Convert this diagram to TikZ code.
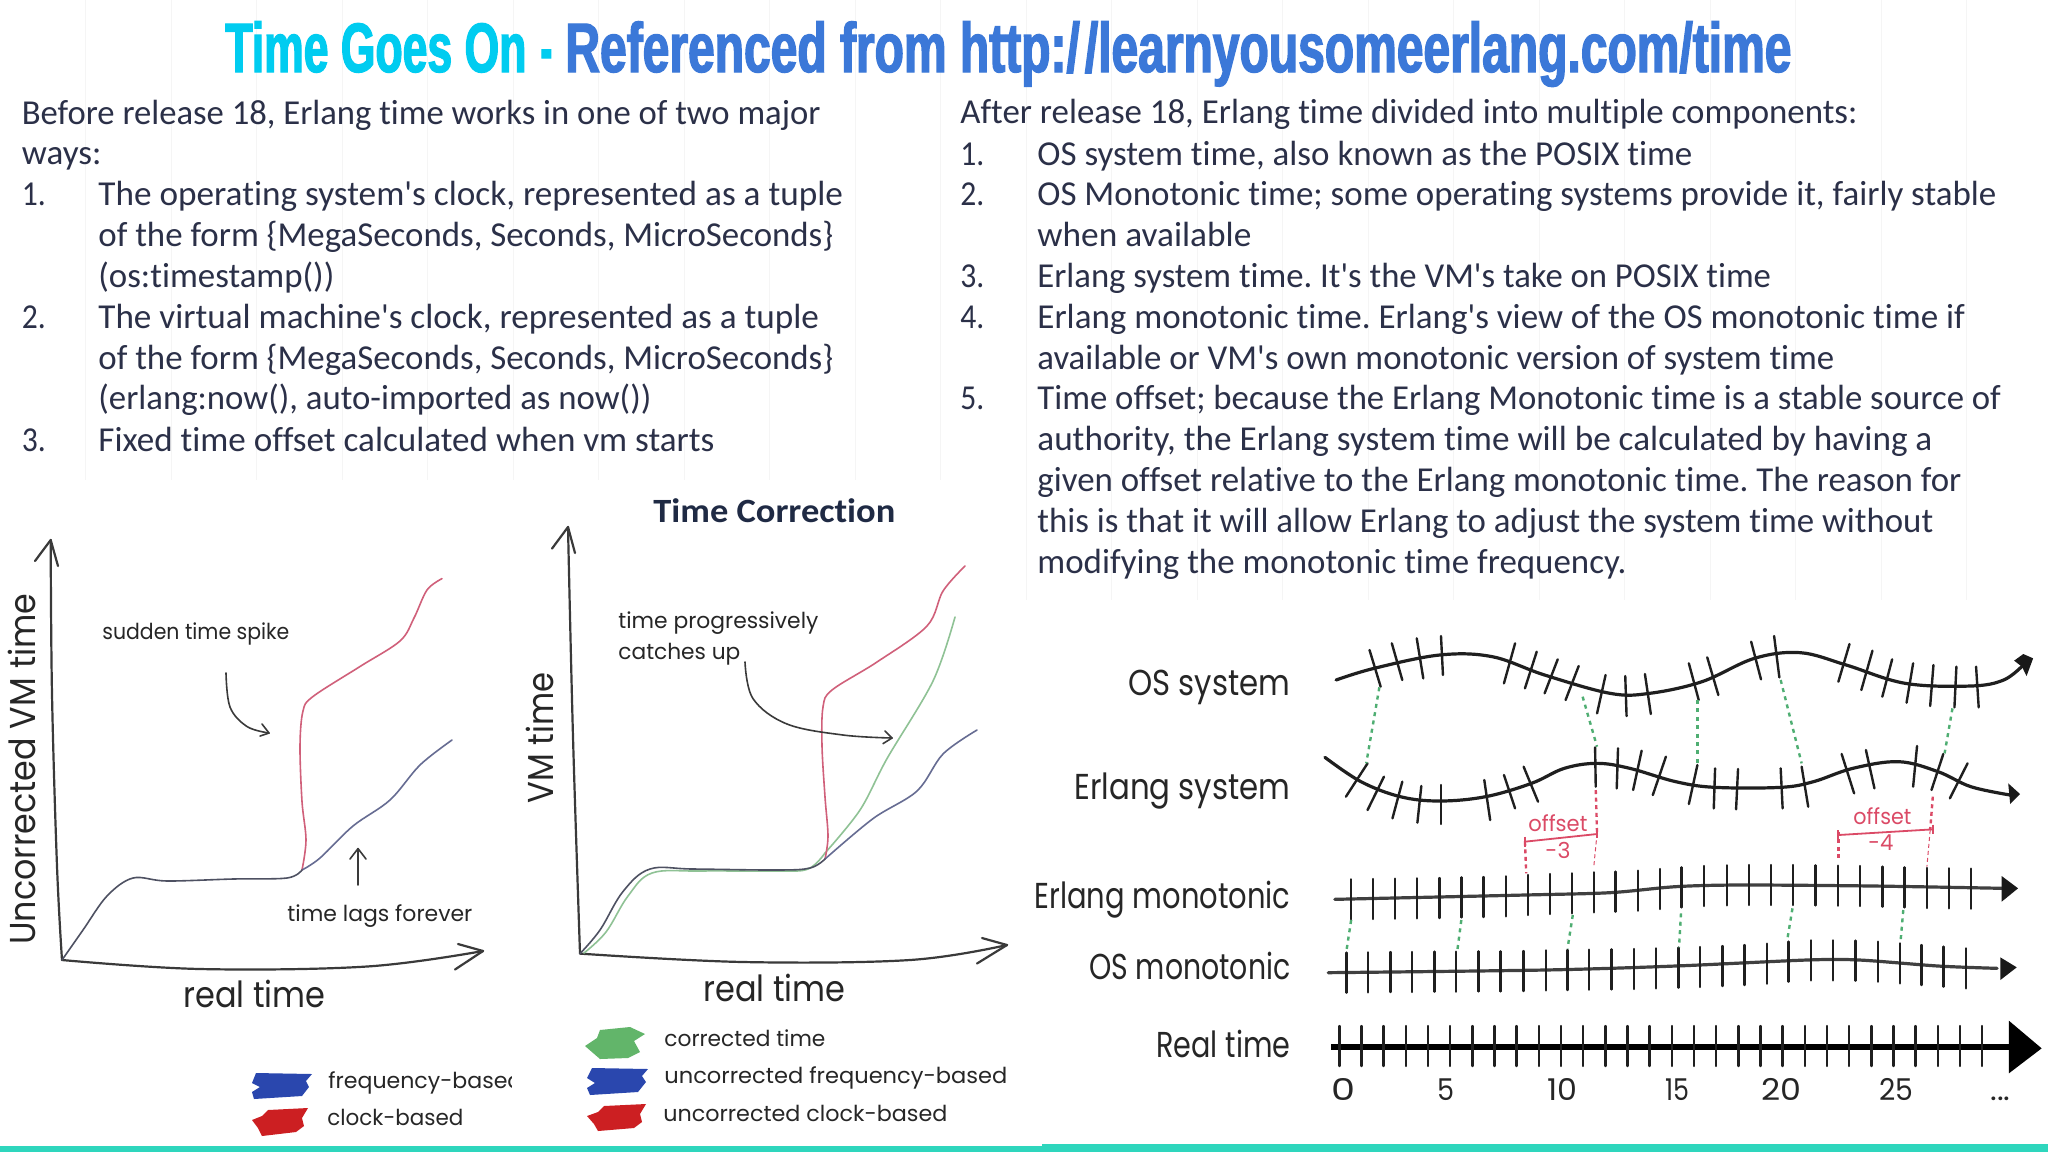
\documentclass[tikz,border=0pt]{standalone}
\usepackage{fontspec}
\setmainfont[Ligatures=NoCommon]{Carlito}
\newfontfamily\titlef[FakeStretch=0.55,BoldFeatures={FakeBold=1.6}]{Liberation Sans}
\newfontfamily\handf[Ligatures=NoCommon]{Poppins}
\definecolor{bodyc}{HTML}{2B3048}
\definecolor{headc}{HTML}{1F2A44}
\definecolor{cyanT}{HTML}{00CCF0}
\definecolor{blueT}{HTML}{3B78D8}
\definecolor{tealB}{HTML}{2ED6BD}
\definecolor{hand}{HTML}{262626}
\definecolor{axisc}{HTML}{3A3A3A}
\definecolor{redl}{HTML}{D0607A}
\definecolor{bluel}{HTML}{666C92}
\definecolor{greenl}{HTML}{8FC295}
\definecolor{swb}{HTML}{2A47AE}
\definecolor{swr}{HTML}{CC1F22}
\definecolor{swg}{HTML}{62B56A}
\definecolor{dotg}{HTML}{4FAE72}
\definecolor{offr}{HTML}{DB4A66}
\newcommand{\fitw}[2]{\resizebox{\dimexpr #1pt/2\relax}{\height}{\frenchspacing #2}}
\newcommand{\tl}[5]{\node[bodytxt] (#1) at (#2,#3+1.2) {\fitw{#4}{#5}};}
\newcommand{\hl}[6]{\node[handtxt,font=\handf\fontsize{#6}{#6}\selectfont] (#1) at (#2,#3) {\fitw{#4}{#5}};}
\newcommand{\ap}{\textquotesingle}
\tikzset{
  bodytxt/.style={anchor=base west,inner sep=0pt,text=bodyc,font=\fontsize{17.5}{20}\selectfont},
  handtxt/.style={anchor=base west,inner sep=0pt,text=hand},
  titletxt/.style={anchor=base west,inner sep=0pt,font=\titlef\bfseries\fontsize{35}{40}\selectfont},
  axis/.style={draw=axisc,line width=1.1pt,line cap=round,line join=round},
  curvek/.style={draw=#1,line width=0.8pt,line cap=round,line join=round},
  tick/.style={draw=black!88,line width=1.2pt,line cap=round},
  wave/.style={draw=black!88,line width=1.6pt,line cap=round},
  gdash/.style={draw=dotg,line width=1.2pt,dash pattern=on 2pt off 2.2pt},
  rdash/.style={draw=offr,line width=1.2pt,dash pattern=on 2pt off 1.8pt},
  rline/.style={draw=offr,line width=0.9pt},
}
\begin{document}
\begin{tikzpicture}[x=0.5pt,y=-0.5pt]
\useasboundingbox (0,0) rectangle (2048,1152);
\fill[white] (0,0) rectangle (2048,1152);
% faint background stripes
\foreach \k in {1,...,11} \draw[black!4,line width=0.5pt] (85.5*\k,0) -- (85.5*\k,480);
\foreach \k in {12,...,23} \draw[black!4,line width=0.5pt] (85.5*\k,0) -- (85.5*\k,600);
% bottom band
\fill[tealB] (0,1146) rectangle (1042,1152);
\fill[tealB] (1042,1144) rectangle (2048,1152);
% title
\node[titletxt,text=cyanT] (t1) at (225,72) {\fitw{301}{Time Goes On}};
\node[titletxt,text=cyanT] (t2) at (540,72) {\fitw{12}{-}};
\node[titletxt,text=blueT] (t3) at (565,72) {\fitw{1226}{Referenced from http:/\kern2pt/learnyousomeerlang.com/time}};
% left column
\tl{a1}{21.5}{123}{798.5}{Before release 18, Erlang time works in one of two major}
\tl{a2}{21.5}{163.5}{79.5}{ways:}
\tl{an1}{21.5}{204}{24}{1.}
\tl{a3}{98}{204}{744.5}{The operating system\ap s clock, represented as a tuple}
\tl{a4}{98}{245}{735}{of the form \{MegaSeconds, Seconds, MicroSeconds\}}
\tl{a5}{98}{286}{236}{(os:timestamp())}
\tl{an2}{21.5}{327}{24}{2.}
\tl{a6}{98}{327}{720.5}{The virtual machine\ap s clock, represented as a tuple}
\tl{a7}{98}{368}{735}{of the form \{MegaSeconds, Seconds, MicroSeconds\}}
\tl{a8}{98}{408.5}{553}{(erlang:now(), auto-imported as now())}
\tl{an3}{21.5}{450}{24}{3.}
\tl{a9}{98}{450}{616}{Fixed time offset calculated when vm starts}
% right column
\tl{b1}{960}{122.5}{897}{After release 18, Erlang time divided into multiple components:}
\tl{bn1}{960}{163.8}{24}{1.}
\tl{b2}{1037}{163.8}{655}{OS system time, also known as the POSIX time}
\tl{bn2}{960}{204.7}{24}{2.}
\tl{b3}{1037}{204.7}{959}{OS Monotonic time; some operating systems provide it, fairly stable}
\tl{b4}{1037}{245.7}{214}{when available}
\tl{bn3}{960}{286.3}{24}{3.}
\tl{b5}{1037}{286.3}{733.6}{Erlang system time. It\ap s the VM\ap s take on POSIX time}
\tl{bn4}{960}{327.2}{24}{4.}
\tl{b6}{1037}{327.2}{927.6}{Erlang monotonic time. Erlang\ap s view of the OS monotonic time if}
\tl{b7}{1037}{368}{797}{available or VM\ap s own monotonic version of system time}
\tl{bn5}{960}{408.7}{24}{5.}
\tl{b8}{1037}{408.7}{963.5}{Time offset; because the Erlang Monotonic time is a stable source of}
\tl{b9}{1037}{449.7}{895}{authority, the Erlang system time will be calculated by having a}
\tl{b10}{1037}{490.6}{924}{given offset relative to the Erlang monotonic time. The reason for}
\tl{b11}{1037}{531.6}{896}{this is that it will allow Erlang to adjust the system time without}
\tl{b12}{1037}{572}{589}{modifying the monotonic time frequency.}
\node[anchor=base west,inner sep=0pt,text=headc,font=\bfseries\fontsize{17}{20}\selectfont] (tc) at (653,522) {\fitw{242}{Time Correction}};

% ===== left chart =====
\draw[axis] plot[smooth,tension=0.6] coordinates {(62,960) (57,866) (52,694) (50.7,540)};
\draw[axis] (35,561) -- (50.7,540) -- (58,566);
\draw[axis] plot[smooth,tension=0.6] coordinates {(62,960) (200,969) (367,966.5) (483,951)};
\draw[axis] (458,944) -- (483,951) -- (455,969.5);
\draw[curvek=redl] plot[smooth,tension=0.55] coordinates {(302,870) (306,840) (302,801.5) (300,746) (303,711) (313,696.5) (360,666.5) (400,641) (414,618) (427,590) (442,578.6)};
\draw[curvek=bluel] plot[smooth,tension=0.55] coordinates {(302,870) (320,858) (353,826) (390,800) (420,765) (452,740)};
\draw[curvek=bluel!45!axisc] plot[smooth,tension=0.55] coordinates {(62,960) (83,930) (107,896) (133,878) (167,881) (233,879) (287,878) (302,870)};
\draw[curvek=axisc] plot[smooth,tension=0.6] coordinates {(226,673) (230,707) (247,726.5) (269,733)};
\draw[curvek=axisc] (262,724) -- (269,733) -- (260,736);
\draw[curvek=axisc] (358,885) -- (358,848.6);
\draw[curvek=axisc] (350,859) -- (358,848.6) -- (366,859);
\hl{c1}{102}{639}{187}{sudden time spike}{11}
\hl{c2}{287}{921}{185}{time lags forever}{11}
\hl{c3}{183}{1007}{142}{real time}{18}
\node[handtxt,rotate=90,font=\handf\fontsize{18}{18}\selectfont] (c4) at (35,945) {\fitw{351}{Uncorrected VM time}};
% legend left
\fill[swb] (256,1073) -- (312,1074) -- (306,1081) -- (309,1087) -- (302,1096) -- (254,1099) -- (252,1092) -- (260,1087) -- (252,1083) -- cycle;
\fill[swr] (268,1110) -- (308,1108) -- (302,1118) -- (304,1126) -- (296,1132) -- (262,1136) -- (258,1128) -- (252,1120) -- (262,1116) -- cycle;
\begin{scope}
\clip (320,1060) rectangle (511,1104);
\node[handtxt,font=\handf\fontsize{11}{11}\selectfont] (c5) at (328,1088) {\fitw{194}{frequency-based}};
\end{scope}
\hl{c6}{327}{1125}{136}{clock-based}{11}

% ===== right chart =====
\draw[axis] plot[smooth,tension=0.6] coordinates {(580,953.6) (573,737) (568,527)};
\draw[axis] (552,548.6) -- (568,527) -- (575,553);
\draw[axis] plot[smooth,tension=0.6] coordinates {(580,953.6) (743,962) (910,960) (1007,945)};
\draw[axis] (982,938) -- (1007,945) -- (977,963.5);
\draw[curvek=greenl] plot[smooth,tension=0.55] coordinates {(825,853) (860,810) (887,758.6) (933,681) (955,617)};
\draw[curvek=greenl] plot[smooth,tension=0.6] coordinates {(584,953) (606,932) (628,896) (652,873) (700,871) (777,871) (808,869) (825,853)};
\draw[curvek=redl] plot[smooth,tension=0.55] coordinates {(825,859) (828,836) (825,797) (822,746) (823,707) (832,690) (877,662) (927,626) (943,591) (965,566)};
\draw[curvek=bluel] plot[smooth,tension=0.55] coordinates {(825,859) (873,818.6) (917,791) (943,754) (977,730)};
\draw[curvek=bluel!45!axisc] plot[smooth,tension=0.6] coordinates {(580,953.6) (600,930) (623,891.5) (650,869) (693,869) (777,870) (810,868) (825,859)};
\draw[curvek=axisc] plot[smooth,tension=0.6] coordinates {(745,662) (753,698.6) (787,724) (843,735) (892,738)};
\draw[curvek=axisc] (885,731) -- (892,738) -- (883,743.6);
\hl{d1}{618}{628}{200}{time progressively}{11}
\hl{d2}{618}{659}{122}{catches up}{11}
\hl{d3}{703}{1001}{142}{real time}{18}
\node[handtxt,rotate=90,font=\handf\fontsize{18}{18}\selectfont] (d4) at (553,803.6) {\fitw{131}{VM time}};
% legend right
\fill[swg] (600,1030) -- (630,1027) -- (645,1034) -- (634,1041) -- (640,1052) -- (628,1058) -- (600,1059) -- (585,1046) -- (597,1038) -- cycle;
\fill[swb] (592,1068) -- (648,1069) -- (642,1076) -- (646,1082) -- (638,1092) -- (590,1095) -- (587,1088) -- (595,1083) -- (587,1078) -- cycle;
\fill[swr] (604,1106) -- (646,1104) -- (640,1114) -- (642,1122) -- (634,1128) -- (598,1131) -- (594,1124) -- (587,1116) -- (598,1112) -- cycle;
\hl{d5}{664}{1046}{161}{corrected time}{11}
\hl{d6}{664}{1083.5}{343}{uncorrected frequency-based}{11}
\hl{d7}{663}{1121}{284}{uncorrected clock-based}{11}

% ===== timelines: labels =====
\hl{e1}{1128}{695.5}{162}{OS system}{18}
\hl{e2}{1074}{799}{216}{Erlang system}{18}
\hl{e3}{1034}{908}{256}{Erlang monotonic}{18}
\hl{e4}{1089}{979.5}{201}{OS monotonic}{18}
\hl{e5}{1156}{1057.5}{134}{Real time}{18}
\foreach \n/\xx/\w/\s in {0/1331/24/0,5/1437/17/5,10/1547/30/10,15/1665/24/15,20/1761/40/20,25/1879/34/25}
  \node[handtxt,font=\handf\fontsize{15}{15}\selectfont] (n\n) at (\xx,1100) {\fitw{\w}{\s}};
\node[handtxt,font=\handf\fontsize{15}{15}\selectfont] (ndots) at (1990,1100) {\fitw{20}{...}};
\node[handtxt,text=offr,font=\handf\fontsize{11}{11}\selectfont] (o1) at (1528,831) {\fitw{59}{offset}};
\node[handtxt,text=offr,font=\handf\fontsize{11}{11}\selectfont] (o2) at (1545,858) {\fitw{25}{-3}};
\node[handtxt,text=offr,font=\handf\fontsize{11}{11}\selectfont] (o3) at (1853,824) {\fitw{58}{offset}};
\node[handtxt,text=offr,font=\handf\fontsize{11}{11}\selectfont] (o4) at (1868,850) {\fitw{25}{-4}};

% ===== upper timelines (zoom coordinates) =====
\begin{scope}[shift={(1020,600)},x=0.32787pt,y=-0.16667pt]
\draw[wave] plot[smooth,tension=0.6] coordinates {(482,240) (540,205) (640,165) (720,170) (800,225) (900,280) (960,280) (1040,245) (1120,175) (1190,158) (1260,195) (1350,250) (1450,258) (1500,240) (1530,195)};
\fill[black!90] (1516,182) -- (1530,162) -- (1545,175) -- (1535,228) -- (1528,200) -- cycle;
\foreach \a/\b/\c/\d in {550/260/533/150,583/240/567/130,615/235/605/115,645/225/642/108,738/250/755/130,770/265/788/155,800/280/820/178,832/300/852/198,880/340/893/225,925/348/923/228,962/342/953/222,1035/300/1020/190,1065/285/1048/172,1130/238/1115/125,1158/232/1150/108,1248/245/1265/132,1283/270/1300/152,1315/290/1330/178,1352/308/1362/190,1388/318/1393/195,1425/322/1428/200,1462/322/1458/200}
  \draw[tick] (\a,\b) -- (\c,\d);
\draw[wave] plot[smooth,tension=0.6] coordinates {(465,472) (520,545) (580,590) (640,603) (710,590) (780,550) (830,505) (880,490) (930,505) (1000,545) (1060,562) (1160,562) (1210,545) (1270,505) (1340,485) (1400,515) (1450,560) (1510,585)};
\fill[black!90] (1507,550) -- (1525,582) -- (1510,612) -- cycle;
\foreach \a/\b/\c/\d in {530/490/497/590,555/530/530/630,583/545/568/655,612/558/606/668,642/555/642/672,708/540/717/660,738/525/755/625,768/500/790/605,877/442/878/560,912/445/910/565,948/452/935/570,985/470/965/585,1033/495/1020/612,1060/505/1058/625,1095/507/1092/628,1160/505/1163/625,1192/500/1202/620,1253/462/1272/580,1290/450/1303/565,1368/438/1362/560,1408/462/1390/570,1445/490/1418/595}
  \draw[tick] (\a,\b) -- (\c,\d);
\foreach \a/\b/\c/\d in {548/262/528/490,858/290/880/440,1033/300/1033/490,1160/240/1192/490,1422/325/1410/460}
  \draw[gdash] (\a,\b) -- (\c,\d);
\draw[rdash] (878,570) -- (880,700);
\draw[rdash] (770,725) -- (772,820);
\draw[rdash] (1248,695) -- (1248,785);
\draw[rdash] (1392,590) -- (1388,690);
\draw[offr,line width=0.5pt,dash pattern=on 2pt off 1.5pt] (880,700) -- (875,800);
\draw[offr,line width=0.5pt,dash pattern=on 2pt off 1.5pt] (1388,690) -- (1383,800);
\draw[rline] (770,725) -- (880,702);
\draw[rline] (1248,705) -- (1392,688);
\draw[rline] (770,710) -- (770,740);
\draw[rline] (880,688) -- (880,715);
\draw[rline] (1248,690) -- (1248,720);
\draw[rline] (1392,674) -- (1392,702);
\end{scope}

% ===== lower timelines =====
\begin{scope}[shift={(1020,860)},x=0.32787pt,y=-0.16667pt]
\draw[wave,draw=black!75] plot[smooth,tension=0.5] coordinates {(480,118) (770,105) (900,98) (1000,80) (1100,75) (1300,78) (1500,85)};
\fill[black!90] (1497,48) -- (1522,85) -- (1497,125) -- cycle;
\foreach \x/\c in {505/118,538/117,572/116,605/115,640/114,673/112,707/111,741/109,775/105,808/102,842/100,875/97,908/95,942/92,976/87,1009/82,1043/78,1078/76,1112/75,1145/75,1179/75,1213/76,1247/77,1281/78,1315/80,1349/82,1383/84,1417/85,1450/86}
  \draw[tick] (\x,\c-60) -- (\x,\c+60);
\draw[wave,draw=black!75] plot[smooth,tension=0.5] coordinates {(470,338) (800,330) (1000,318) (1200,300) (1280,300) (1400,318) (1490,325)};
\fill[black!90] (1495,292) -- (1520,322) -- (1495,360) -- cycle;
\foreach \x/\c in {498/338,531/337,565/336,598/336,632/335,665/335,699/334,733/334,768/333,802/331,835/330,868/329,902/328,936/327,970/325,1004/323,1037/321,1071/318,1105/315,1139/311,1172/305,1206/301,1240/301,1274/302,1308/305,1342/310,1375/315,1408/320,1443/325}
  \draw[tick] (\x,\c-60) -- (\x,\c+60);
\foreach \a/\b/\c/\d in {505/180/498/270,673/180/667/270,843/165/835/265,1008/160/1005/262,1178/145/1170/240,1347/150/1343/240}
  \draw[gdash] (\a,\b) -- (\c,\d);
\draw[black,line width=3pt] (475,560) -- (1510,560);
\foreach \k in {0,...,29}
  \draw[tick] ({487+33.8*\k},498) -- ({487+33.8*\k},618);
\fill[black] (1508,482) -- (1558,565) -- (1508,640) -- cycle;
\end{scope}
\end{tikzpicture}
\end{document}
